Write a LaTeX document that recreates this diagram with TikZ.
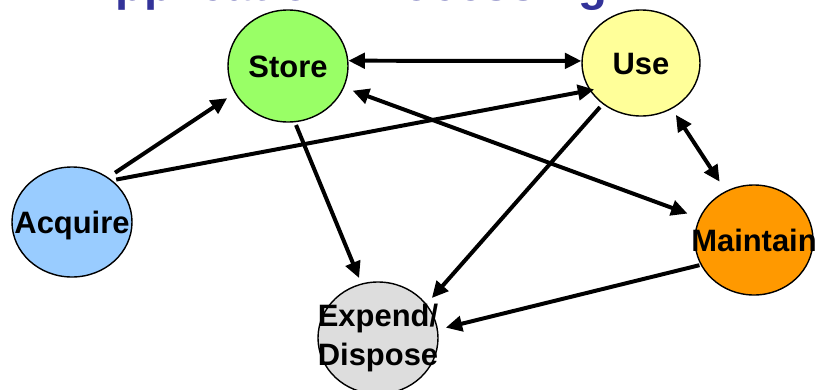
\documentclass[tikz,border=0pt]{standalone}
\usepackage{fontspec}
\setmainfont{Liberation Sans}
\usepackage{tikz}
\usetikzlibrary{shapes.geometric,arrows.meta}
\definecolor{storegreen}{HTML}{99FF66}
\definecolor{useyellow}{HTML}{FFFF99}
\definecolor{acqblue}{HTML}{99CCFF}
\definecolor{expgrey}{HTML}{DDDDDD}
\definecolor{mntorange}{HTML}{FF9900}
\definecolor{titleblue}{HTML}{333399}

\begin{document}
\begin{tikzpicture}[x=0.03cm,y=-0.03cm,
  blob/.style={ellipse,draw,line width=1.2pt,inner sep=0pt},
  lbl/.style={font=\bfseries\fontsize{26.4}{34}\selectfont},
  word/.style={lbl,text height=19pt,text depth=0pt},
  link/.style={line width=3.4pt,-{Triangle[length=14pt,width=13pt]}},
  both/.style={line width=3.4pt,{Triangle[length=14pt,width=13pt]}-{Triangle[length=14pt,width=13pt]}}]
\useasboundingbox (0,0) rectangle (819,389);
\clip (0,0) rectangle (819,389);
\node[anchor=base west,text=titleblue,font=\bfseries\fontsize{40.4}{48}\selectfont,inner sep=0pt] (title) at (39,0) {n Application Processing};
\node[blob,fill=storegreen,minimum width=3.6cm,minimum height=3.36cm,label={[word]center:Store}] (store) at (288,66) {};
\node[blob,fill=useyellow,minimum width=3.54cm,minimum height=3.18cm,label={[word]center:Use}] (use) at (641,63) {};
\node[blob,fill=acqblue,minimum width=3.6cm,minimum height=3.3cm,label={[word]center:Acquire}] (acq) at (72,222) {};
\node[blob,fill=expgrey,minimum width=3.6cm,minimum height=3.36cm,label={[lbl,align=center]center:{Expend/\\Dispose}}] (exp) at (378,338) {};
\node[blob,fill=mntorange,minimum width=3.54cm,minimum height=3.3cm,label={[word]center:Maintain}] (mnt) at (754,240) {};
\draw[both] (store.5) -- (use.178);
\draw[link,shorten <=7pt,shorten >=7.7pt] (acq.51) -- (store.207);
\draw[link,shorten <=3.4pt,shorten >=-4pt] (acq.46) -- (use.208);
\draw[both,shorten <=7.7pt,shorten >=10.6pt] (store.339) -- (mnt.158);
\draw[both,shorten <=6pt,shorten >=9.4pt] (use.304) -- (mnt.120);
\draw[link,shorten <=2.5pt,shorten >=5pt] (store.277) -- (exp.107);
\draw[link,shorten <=3.4pt,shorten >=6.8pt] (use.227) -- (exp.35);
\draw[link,shorten <=1pt,shorten >=6.8pt] (mnt.205) -- (exp.8);
\end{tikzpicture}
\end{document}
